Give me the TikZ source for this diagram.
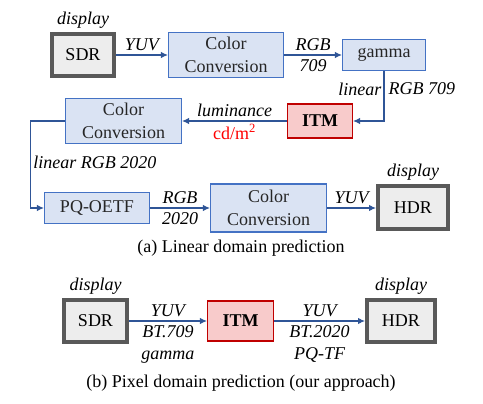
\documentclass[tikz,border=0pt]{standalone}
\usepackage{fontspec}
\setmainfont{Liberation Serif}
\usetikzlibrary{arrows.meta, positioning}
\definecolor{boxblue}{HTML}{DAE3F3}
\definecolor{lineblue}{HTML}{4472C4}
\definecolor{arrowblue}{HTML}{2F5597}
\definecolor{itmred}{HTML}{F8CBCB}
\definecolor{itmline}{HTML}{C00000}
\definecolor{dispgray}{HTML}{EDEDED}
\definecolor{displine}{HTML}{595959}
\tikzset{
    convbox/.style={rectangle, draw=lineblue, line width=1.2pt, fill=boxblue, inner sep=0pt, align=center, text=black!85},
    itmbox/.style={rectangle, draw=itmline, line width=1.2pt, fill=itmred, inner sep=0pt, font=\bfseries},
    dispbox/.style={rectangle, draw=displine, line width=4pt, fill=dispgray, inner sep=0pt},
    lbl/.style={font=\itshape, inner sep=3.5pt},
    arrow/.style={line width=1.1pt, draw=arrowblue, -{Latex[length=7pt,width=6.5pt]}}
}

\begin{document}
\fontsize{18}{22.5}\selectfont
\begin{tikzpicture}[x=1pt, y=-1pt]
        \useasboundingbox (0,0) rectangle (483,404);
        \node[dispbox, minimum width=62pt, minimum height=42pt] (sdrA) at (83,55) {SDR};
        \node[convbox, minimum width=115pt, minimum height=45pt] (convA) at (226,55) {Color\\Conversion};
        \node[convbox, minimum width=83pt, minimum height=31pt] (gam) at (384,55) {gamma};
        \node[itmbox, minimum width=65pt, minimum height=34pt] (itmA) at (320,121) {ITM};
        \node[convbox, minimum width=116pt, minimum height=45pt] (convB) at (123.5,121) {Color\\Conversion};
        \node[convbox, minimum width=105pt, minimum height=31pt] (oetf) at (97,208) {PQ-OETF};
        \node[convbox, minimum width=116pt, minimum height=48pt] (convC) at (268.5,208) {Color\\Conversion};
        \node[dispbox, minimum width=70pt, minimum height=43pt] (hdrA) at (413,208) {HDR};
        \node[lbl, above=0pt of sdrA] (dispA) {display};
        \node[lbl, above=0pt of hdrA] (dispB) {display};
        \node (capA) at (241,248) {(a) Linear domain prediction};

        \draw[arrow] (sdrA) -- node[lbl, above]{YUV} (convA);
        \draw[arrow] (convA) -- node[lbl, above]{RGB} node[lbl, below]{709} (gam);
        \draw[arrow] (gam.south) |- node[lbl, pos=0.18, left, inner sep=2pt]{linear} node[lbl, pos=0.18, right, inner sep=4pt]{RGB 709} (itmA.east);
        \draw[arrow] (itmA) -- node[lbl, above]{luminance} node[below, text=red, inner sep=3pt]{cd/m\textsuperscript{2}} (convB);
        \draw[arrow] (convB.west) -- ++(-34,0) |- node[lbl, pos=0.235, right, inner sep=2pt]{linear RGB 2020} (oetf.west);
        \draw[arrow] (oetf) -- node[lbl, above]{RGB} node[lbl, below]{2020} (convC);
        \draw[arrow] (convC) -- node[lbl, above]{YUV} (hdrA);

        \node[dispbox, minimum width=63pt, minimum height=42pt] (sdrB) at (95.5,321) {SDR};
        \node[itmbox, minimum width=66pt, minimum height=40pt] (itmB) at (240.5,321) {ITM};
        \node[dispbox, minimum width=68pt, minimum height=42pt] (hdrB) at (401,321) {HDR};
        \node[lbl, above=0pt of sdrB] (dispC) {display};
        \node[lbl, above=0pt of hdrB] (dispD) {display};
        \node (capB) at (241,383) {(b) Pixel domain prediction (our approach)};

        \draw[arrow] (sdrB) -- node[lbl, above]{YUV} node[lbl, below, align=center]{BT.709\\gamma} (itmB);
        \draw[arrow] (itmB) -- node[lbl, above]{YUV} node[lbl, below, align=center]{BT.2020\\PQ-TF} (hdrB);
    \end{tikzpicture}
\end{document}
